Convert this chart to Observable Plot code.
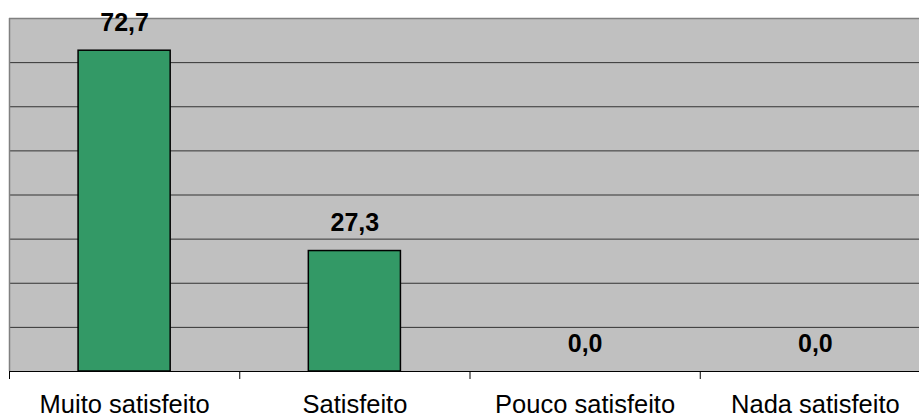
<!DOCTYPE html>
<html>
<head>
<meta charset="utf-8">
<script src="https://cdn.jsdelivr.net/npm/d3@7"></script>
<script src="https://cdn.jsdelivr.net/npm/@observablehq/plot@0.6"></script>
<style>
  html, body { margin: 0; padding: 0; background: #ffffff; overflow: hidden; }
  #chart svg { display: block; overflow: hidden; }
</style>
</head>
<body>
<div id="chart"></div>
<script>
const categories = ["Muito satisfeito", "Satisfeito", "Pouco satisfeito", "Nada satisfeito"];
const values = [72.7, 27.3, 0.0, 0.0];
const gridValues = [10, 20, 30, 40, 50, 60, 70];
const yMax = 80;

const data = categories.map((c, i) => ({
  category: c,
  index: i,
  value: values[i],
  label: d3.format(".1f")(values[i]).replace(".", ",")
}));
const boundaries = d3.range(categories.length + 1);

const font = "Liberation Sans, Arial, Helvetica, sans-serif";

const chart = Plot.plot({
  width: 919,
  height: 419,
  marginLeft: 9,
  marginRight: -11,
  marginTop: 18,
  marginBottom: 48,
  style: { fontFamily: font, background: "#ffffff", overflow: "hidden" },
  x: { domain: [0, categories.length], axis: null },
  y: { domain: [0, yMax], axis: null },
  marks: [
    Plot.frame({ fill: "#c0c0c0", stroke: "none" }),
    Plot.ruleY(gridValues, { stroke: "#333333", strokeWidth: 1 }),
    Plot.ruleY([yMax], { stroke: "#808080", strokeWidth: 1.5 }),
    Plot.ruleX([0], { stroke: "#808080", strokeWidth: 1.5 }),
    Plot.rectY(data.filter(d => d.value > 0), {
      x1: d => d.index + 0.3,
      x2: d => d.index + 0.7,
      y1: 0,
      y2: "value",
      fill: "#339966",
      stroke: "#000000",
      strokeWidth: 1.5
    }),
    Plot.ruleY([0], { stroke: "#000000", strokeWidth: 1.2 }),
    Plot.ruleX(boundaries, { x: d => d, y1: 0, y2: 0, insetBottom: -8, stroke: "#000000", strokeWidth: 1 }),
    Plot.text(data, {
      x: d => d.index + 0.5,
      y: "value",
      text: "label",
      fontSize: 25,
      fontWeight: "bold",
      fill: "#000000",
      lineAnchor: "bottom",
      dy: -20
    }),
    Plot.text(data, {
      x: d => d.index + 0.5,
      frameAnchor: "bottom",
      text: "category",
      fontSize: 25.5,
      fill: "#000000",
      lineAnchor: "top",
      dy: 23
    })
  ]
});

document.getElementById("chart").appendChild(chart);
</script>
</body>
</html>
